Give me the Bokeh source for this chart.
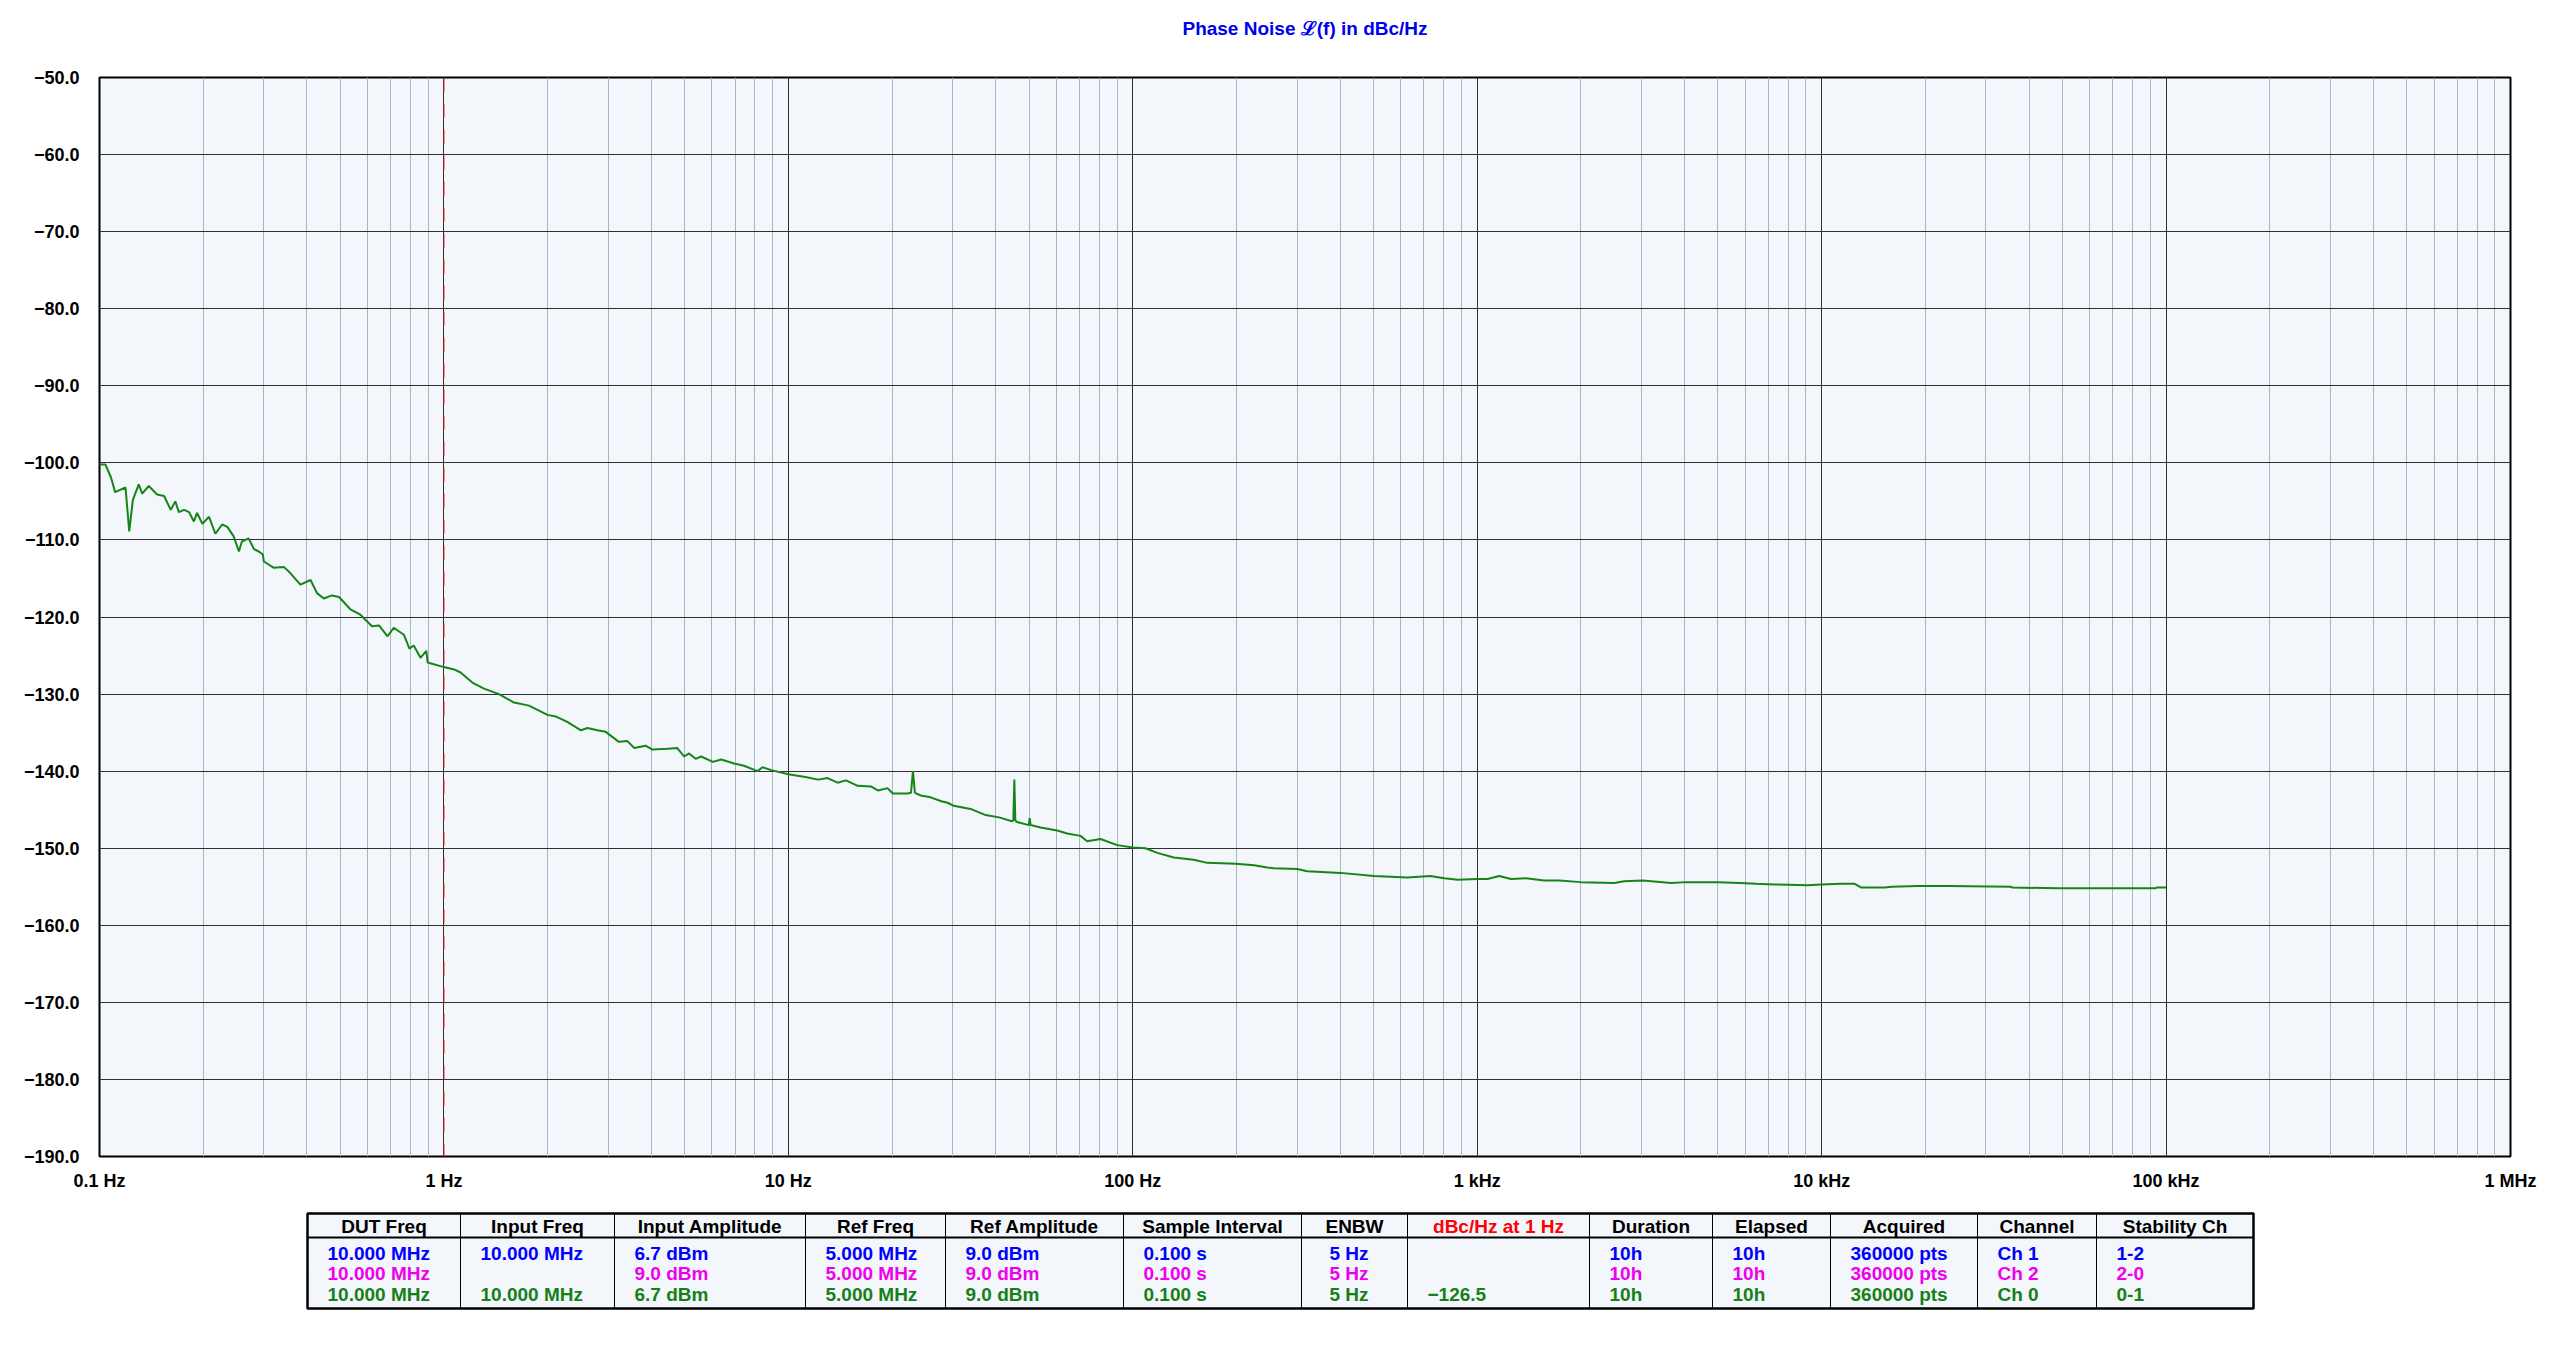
from bokeh.plotting import figure
from bokeh.layouts import column
from bokeh.models import Range1d, FixedTicker, Span
from bokeh.core.properties import value
from bokeh.embed import file_html
from bokeh.resources import INLINE

# ---------------- data ----------------
freq_hz = [0.100, 0.104, 0.108, 0.111, 0.119, 0.122, 0.125, 0.130, 0.133, 0.139,
           0.147, 0.154, 0.161, 0.166, 0.170, 0.176, 0.182, 0.188, 0.192, 0.199,
           0.208, 0.217, 0.227, 0.235, 0.245, 0.254, 0.259, 0.271, 0.281, 0.290,
           0.298, 0.300, 0.320, 0.343, 0.358, 0.383, 0.410, 0.428, 0.448, 0.473,
           0.496, 0.535, 0.572, 0.618, 0.648, 0.686, 0.715, 0.765, 0.794, 0.817,
           0.855, 0.889, 0.897, 1.00, 1.07, 1.118, 1.209, 1.307, 1.445, 1.597,
           1.766, 1.998, 2.11, 2.28, 2.50, 2.61, 2.79, 2.95, 3.22, 3.41,
           3.57, 3.85, 4.03, 4.46, 4.76, 4.98, 5.15, 5.38, 5.58, 6.04,
           6.38, 6.96, 7.43, 8.14, 8.41, 8.97, 10.0, 11.3, 12.2, 13.0,
           13.9, 14.7, 15.9, 17.4, 18.2, 19.4, 20.1, 22.2, 22.7, 23.0,
           23.3, 23.5, 24.4, 25.9, 27.8, 29.0, 30.2, 33.8, 37.4, 40.9,
           44.6, 45.0, 45.3, 45.6, 46.1, 49.9, 50.2, 50.5, 54.0, 60.3,
           64.5, 70.5, 73.7, 80.6, 90.1, 100, 108.9, 117.8, 131.6, 150.3,
           164.5, 199.2, 225.0, 245.6, 256.8, 300.1, 320.9, 400.6, 501.2, 626.7,
           730.4, 802.5, 877, 1000, 1072, 1159, 1253, 1385, 1566, 1731,
           2000, 2500, 2673, 3023, 3659, 4046, 5000, 5778, 6474, 7311,
           9115, 10000, 11374, 12434, 13045, 15252, 15983, 19019, 23400, 35400,
           35800, 48900, 93300, 93900, 100000]
noise_dbc = [-100.2, -100.2, -101.9, -103.8, -103.2, -108.9, -104.8, -102.8, -104.0, -103.0,
             -104.1, -104.3, -106.1, -105.0, -106.4, -106.1, -106.4, -107.6, -106.5, -107.9,
             -107.0, -109.2, -108.0, -108.3, -109.5, -111.5, -110.2, -109.8, -111.2, -111.5,
             -111.9, -112.8, -113.6, -113.5, -114.3, -115.8, -115.2, -116.9, -117.6, -117.2,
             -117.4, -119.0, -119.7, -121.2, -121.1, -122.5, -121.4, -122.3, -124.1, -123.7,
             -125.3, -124.4, -125.9, -126.5, -126.8, -127.2, -128.5, -129.3, -130.0, -131.1,
             -131.5, -132.7, -132.9, -133.6, -134.7, -134.4, -134.7, -134.9, -136.2, -136.1,
             -137.0, -136.7, -137.2, -137.1, -137.0, -138.1, -137.7, -138.4, -138.1, -138.8,
             -138.5, -139.0, -139.3, -140.0, -139.5, -139.9, -140.4, -140.8, -141.1, -140.9,
             -141.5, -141.2, -141.9, -142.0, -142.5, -142.2, -142.9, -142.9, -142.8, -140.0,
             -142.8, -142.9, -143.2, -143.4, -143.9, -144.1, -144.5, -144.9, -145.7, -146.0,
             -146.5, -146.4, -141.1, -146.4, -146.6, -147.0, -146.1, -147.0, -147.3, -147.7,
             -148.1, -148.4, -149.1, -148.8, -149.6, -149.9, -150.0, -150.6, -151.2, -151.5,
             -151.9, -152.0, -152.2, -152.5, -152.6, -152.7, -153.0, -153.2, -153.6, -153.8,
             -153.6, -153.9, -154.1, -154.0, -154.0, -153.6, -154.0, -153.9, -154.2, -154.2,
             -154.4, -154.5, -154.3, -154.2, -154.5, -154.4, -154.4, -154.5, -154.6, -154.7,
             -154.8, -154.7, -154.6, -154.6, -155.1, -155.1, -155.0, -154.9, -154.9, -155.0,
             -155.1, -155.2, -155.2, -155.1, -155.1]

x_ticks = [0.1, 1, 10, 100, 1000, 10000, 100000, 1000000]
x_tick_labels = ["0.1 Hz", "1 Hz", "10 Hz", "100 Hz", "1 kHz", "10 kHz", "100 kHz", "1 MHz"]
y_ticks = [-190, -180, -170, -160, -150, -140, -130, -120, -110, -100, -90, -80, -70, -60, -50]
y_tick_labels = ["\u2212190.0", "\u2212180.0", "\u2212170.0", "\u2212160.0", "\u2212150.0",
                 "\u2212140.0", "\u2212130.0", "\u2212120.0", "\u2212110.0", "\u2212100.0",
                 "\u221290.0", "\u221280.0", "\u221270.0", "\u221260.0", "\u221250.0"]
marker_freq = 1

title_text = "Phase Noise \u2112(f) in dBc/Hz"

table_headers = ["DUT Freq", "Input Freq", "Input Amplitude", "Ref Freq", "Ref Amplitude",
                 "Sample Interval", "ENBW", "dBc/Hz at 1 Hz", "Duration", "Elapsed",
                 "Acquired", "Channel", "Stability Ch"]
row_ch1 = ["10.000 MHz", "10.000 MHz", "6.7 dBm", "5.000 MHz", "9.0 dBm", "0.100 s", "5 Hz",
           "", "10h", "10h", "360000 pts", "Ch 1", "1-2"]
row_ch2 = ["10.000 MHz", "", "9.0 dBm", "5.000 MHz", "9.0 dBm", "0.100 s", "5 Hz",
           "", "10h", "10h", "360000 pts", "Ch 2", "2-0"]
row_ch0 = ["10.000 MHz", "10.000 MHz", "6.7 dBm", "5.000 MHz", "9.0 dBm", "0.100 s", "5 Hz",
           "\u2212126.5", "10h", "10h", "360000 pts", "Ch 0", "0-1"]

# ---------------- styles ----------------
FONT = "Liberation Sans"
PLOT_BG = "#f3f6fb"
CURVE = "#15851a"
BLUE = "#0000ff"
MAGENTA = "#ee00ee"
GREEN = "#168016"

W = 2552
H_TITLE = 60
H_PLOT = 1136
H_TABLE = 130
FRAME_L, FRAME_R = 99, 2510

minor = [m * 10.0 ** e for e in range(-1, 6) for m in range(2, 10)]

# ---------------- title strip ----------------
ttl = figure(width=W, height=H_TITLE, x_range=Range1d(FRAME_L, FRAME_R), y_range=Range1d(H_TITLE, 0),
             output_backend="svg", toolbar_location=None,
             min_border_left=FRAME_L, min_border_right=W - FRAME_R,
             min_border_top=0, min_border_bottom=0,
             x_axis_location=None, y_axis_location=None,
             background_fill_color="white", border_fill_color="white")
ttl.outline_line_color = None
ttl.grid.visible = False
ttl.text(x=[(FRAME_L + FRAME_R) / 2], y=[28], text=[title_text], text_color="#0000ee",
         text_align="center", text_baseline="middle",
         text_font=value(FONT), text_font_style="bold", text_font_size="19px")

# ---------------- main plot ----------------
p = figure(width=W, height=H_PLOT, x_axis_type="log",
           x_range=Range1d(0.1, 1e6), y_range=Range1d(-190, -50),
           output_backend="svg", toolbar_location=None,
           min_border_left=FRAME_L, min_border_right=W - FRAME_R,
           min_border_top=17, min_border_bottom=40,
           background_fill_color=PLOT_BG, border_fill_color="white")
p.outline_line_color = "black"
p.outline_line_width = 2

p.xaxis.ticker = FixedTicker(ticks=x_ticks, minor_ticks=minor)
p.xaxis.major_label_overrides = {t: l for t, l in zip(x_ticks, x_tick_labels)}
p.yaxis.ticker = FixedTicker(ticks=y_ticks)
p.yaxis.major_label_overrides = {t: l for t, l in zip(y_ticks, y_tick_labels)}
for ax in (p.xaxis, p.yaxis):
    ax.axis_line_color = None
    ax.major_tick_line_color = None
    ax.minor_tick_line_color = None
    ax.major_label_text_font = FONT
    ax.major_label_text_font_style = "bold"
    ax.major_label_text_font_size = "18px"
    ax.major_label_text_color = "black"
p.yaxis.major_label_standoff = 14
p.xaxis.major_label_standoff = 8

p.xgrid.grid_line_color = "#303030"
p.xgrid.grid_line_width = 1
p.xgrid.minor_grid_line_color = "#aab5c5"
p.xgrid.minor_grid_line_width = 1
p.ygrid.grid_line_color = "#303030"
p.ygrid.grid_line_width = 1

p.add_layout(Span(location=marker_freq, dimension="height", line_color="#e01010",
                  line_dash="14 12", line_width=1))
p.line(freq_hz, noise_dbc, line_color=CURVE, line_width=2)

# ---------------- table ----------------
t = figure(width=W, height=H_TABLE, x_range=Range1d(FRAME_L, FRAME_R), y_range=Range1d(H_TABLE, 0),
           output_backend="svg", toolbar_location=None,
           min_border_left=FRAME_L, min_border_right=W - FRAME_R,
           min_border_top=0, min_border_bottom=0,
           x_axis_location=None, y_axis_location=None,
           background_fill_color="white", border_fill_color="white")
t.outline_line_color = None
t.grid.visible = False

col_widths = [153, 154, 191, 140, 178, 178, 106, 182, 123, 118, 147, 119, 157]
col_pads = [20, 20, 20, 20, 20, 20, 28, 20, 20, 20, 20, 20, 20]
table_left = 307
edges = [table_left]
for wdt in col_widths:
    edges.append(edges[-1] + wdt)
top, head_bot, bot = 17, 41, 112

t.quad(left=edges[0], right=edges[-1], top=top, bottom=bot,
       fill_color=PLOT_BG, line_color=None)
t.segment(x0=edges[1:-1], y0=[top] * (len(edges) - 2), x1=edges[1:-1], y1=[bot] * (len(edges) - 2),
          line_color="black", line_width=1)
t.segment(x0=[edges[0]], y0=[head_bot], x1=[edges[-1]], y1=[head_bot], line_color="black", line_width=2)
t.quad(left=edges[0], right=edges[-1], top=top, bottom=bot,
       fill_color=None, line_color="black", line_width=2.5)

centers = [(edges[i] + edges[i + 1]) / 2 for i in range(len(col_widths))]
head_colors = ["black"] * len(table_headers)
head_colors[7] = "#ff0000"
t.text(x=centers, y=[30] * len(centers), text=table_headers, text_color=head_colors,
       text_align="center", text_baseline="middle",
       text_font=value(FONT), text_font_style="bold", text_font_size="19px")
lefts = [e + pd for e, pd in zip(edges[:-1], col_pads)]
for row, yy, col in ((row_ch1, 57, BLUE), (row_ch2, 77, MAGENTA), (row_ch0, 98, GREEN)):
    t.text(x=lefts, y=[yy] * len(lefts), text=row, text_color=col,
           text_align="left", text_baseline="middle",
           text_font=value(FONT), text_font_style="bold", text_font_size="19px")

layout = column(ttl, p, t)
open("out.html", "w").write(file_html(layout, INLINE))
